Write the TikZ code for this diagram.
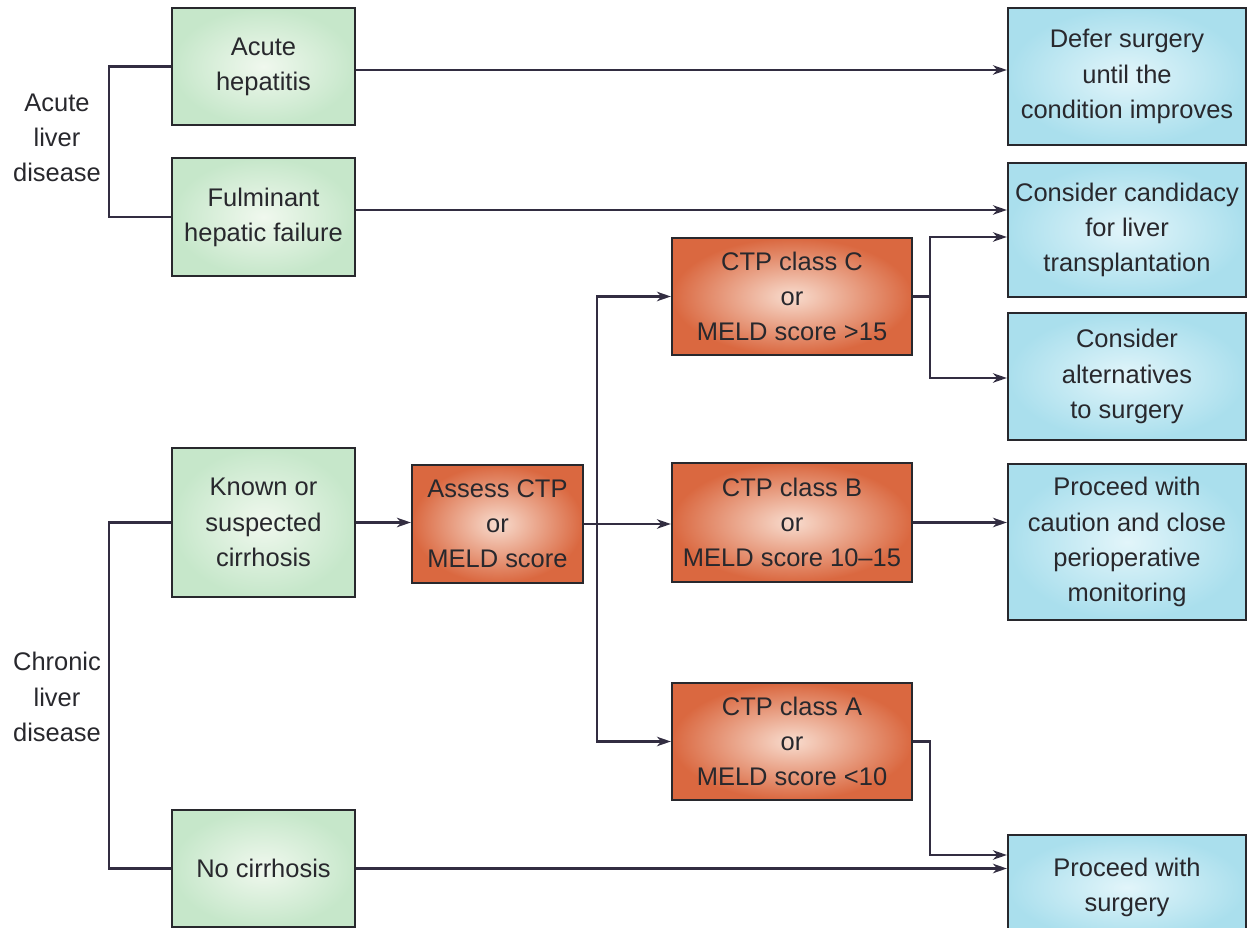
\documentclass[tikz,border=0pt]{standalone}
\usepackage{fontspec}
\setmainfont{Liberation Sans}
\usepackage{tikz}
\usetikzlibrary{arrows.meta,positioning,calc}
\usepackage{xcolor}
\definecolor{ink}{RGB}{40,40,45}
\definecolor{wire}{RGB}{50,45,65}
\definecolor{mint}{RGB}{198,231,202}
\definecolor{mintc}{RGB}{240,248,238}
\definecolor{rust}{RGB}{218,104,64}
\definecolor{rustc}{RGB}{248,220,206}
\definecolor{sky}{RGB}{170,223,237}
\definecolor{skyc}{RGB}{226,245,250}
\tikzset{
  box/.style={draw=ink,line width=1.3pt,inner sep=0pt,align=center,text=ink,
    font=\fontsize{14.5}{20}\selectfont},
  gbox/.style={box,inner color=mintc,outer color=mint,minimum width=3.66cm},
  obox/.style={box,inner color=rustc,outer color=rust,minimum width=4.8cm},
  bbox/.style={box,inner color=skyc,outer color=sky,minimum width=4.76cm},
  lbl/.style={align=center,text=ink,font=\fontsize{14.5}{20}\selectfont},
  wire/.style={draw=wire,line width=1.35pt},
  arr/.style={wire,-{Stealth[length=2.8mm,width=1.9mm]}},
}

\begin{document}
\begin{tikzpicture}[x=0.02cm,y=-0.02cm]
  \useasboundingbox (0,0) rectangle (1247,928);
  % left column
  \node[gbox,minimum height=2.34cm] (hep) at (263.5,66.5) {Acute\\hepatitis};
  \node[gbox,minimum height=2.36cm] (ful) at (263.5,217) {Fulminant\\hepatic failure};
  \node[gbox,minimum height=2.98cm] (known) at (263.5,522.5) {Known or\\suspected\\cirrhosis};
  \node[gbox,minimum height=2.34cm] (nocir) at (263.5,868.5) {No cirrhosis};
  \node[lbl] (acute) at (57,138) {Acute\\liver\\disease};
  \node[lbl] (chronic) at (57,697) {Chronic\\liver\\disease};
  % scores
  \node[obox,minimum width=3.42cm,minimum height=2.36cm] (assess) at (497.5,524) {Assess CTP\\or\\MELD score};
  \node[obox,minimum height=2.34cm] (ctpc) at (792,296.5) {CTP class C\\or\\MELD score >15};
  \node[obox,minimum height=2.38cm] (ctpb) at (792,522.5) {CTP class B\\or\\MELD score 10--15};
  \node[obox,minimum height=2.34cm] (ctpa) at (792,741.5) {CTP class A\\or\\MELD score <10};
  % outcomes
  \node[bbox,minimum height=2.74cm] (defer) at (1127,76.5) {Defer surgery\\until the\\condition improves};
  \node[bbox,minimum height=2.68cm] (cand) at (1127,230) {Consider candidacy\\for liver\\transplantation};
  \node[bbox,minimum height=2.54cm] (alt) at (1127,376.5) {Consider\\alternatives\\to surgery};
  \node[bbox,minimum height=3.12cm] (caution) at (1127,542) {Proceed with\\caution and close\\perioperative\\monitoring};
  \node[bbox,minimum height=2.1cm] (surg) at (1127,887.5) {Proceed with\\surgery};

  % row heights and junctions
  \coordinate (ha) at (0,70);
  \coordinate (fa) at (0,210);
  \coordinate (ca) at (0,237);
  \coordinate (aa) at (0,378);
  \coordinate (sa) at (0,855);
  \coordinate (sp) at (597,0);
  \coordinate (jc) at (930,0);

  \draw[wire] (hep.west) -- ++(-62,0) |- (ful.west);
  \draw[wire] (known.west) -- ++(-62,0) |- (nocir.west);
  \draw[arr] (hep.east |- ha) -- (defer.west |- ha);
  \draw[arr] (ful.east |- fa) -- (cand.west |- fa);
  \draw[arr] (known.east) -- (known.east -| assess.west);
  \draw[arr] (assess.east) -- (assess.east -| ctpb.west);
  \draw[arr] (sp |- assess.east) |- (ctpc.west);
  \draw[arr] (sp |- assess.east) |- (ctpa.west);
  \draw[wire] (ctpc.east) -- (jc |- ctpc.east);
  \draw[arr] (jc |- ctpc.east) |- (cand.west |- ca);
  \draw[arr] (jc |- ctpc.east) |- (alt.west |- aa);
  \draw[arr] (ctpb.east) -- (ctpb.east -| caution.west);
  \draw[arr] (ctpa.east) -| (jc |- sa) -- (surg.west |- sa);
  \draw[arr] (nocir.east) -- (nocir.east -| surg.west);
\end{tikzpicture}
\end{document}
